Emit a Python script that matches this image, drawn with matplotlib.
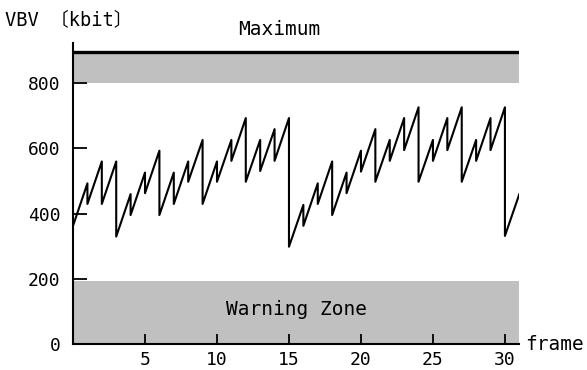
import matplotlib
matplotlib.use('Agg')
import matplotlib.pyplot as plt

plt.rcParams['font.family'] = ['DejaVu Sans Mono', 'Noto Sans CJK JP']

# VBV buffer occupancy: value at frame 0, then peak/trough at each frame boundary
start_level = 363
peaks = [493, 560, 560, 460, 526, 593, 526, 560, 626, 560, 626, 693, 626, 659, 693,
         427, 493, 560, 526, 593, 659, 626, 693, 726, 626, 693, 726, 626, 693, 726]
troughs = [430, 430, 330, 396, 463, 396, 430, 498, 430, 498, 562, 498, 531, 562, 299,
           363, 430, 396, 463, 529, 498, 562, 595, 498, 562, 595, 498, 562, 595, 332]
end_level = 460
n_frames = 31

vbv_max = 895
upper_zone = 800
warning_zone = 195

y_ticks = [0, 200, 400, 600, 800]
x_ticks = [5, 10, 15, 20, 25, 30]

# build the sawtooth path
xs = [0]
ys = [start_level]
for f in range(1, len(peaks) + 1):
    xs += [f, f]
    ys += [peaks[f - 1], troughs[f - 1]]
xs.append(n_frames)
ys.append(end_level)

fig = plt.figure(figsize=(5.87, 3.70), dpi=100)
ax = fig.add_axes([0.1244, 0.0695, 0.7603, 0.8143])

ax.axhspan(0, warning_zone, color='#c0c0c0', lw=0, zorder=1)
ax.axhspan(upper_zone, vbv_max, color='#c0c0c0', lw=0, zorder=1)
ax.axhline(vbv_max, color='black', lw=2.4, zorder=2)
ax.plot(xs, ys, color='black', lw=1.5, zorder=3)

ax.set_xlim(0, n_frames)
ax.set_ylim(0, 923)
for s in ['top', 'right']:
    ax.spines[s].set_visible(False)
for s in ['left', 'bottom']:
    ax.spines[s].set_linewidth(1.5)
    ax.spines[s].set_zorder(4)

ax.set_xticks(x_ticks)
ax.set_yticks(y_ticks)
ax.tick_params(axis='x', direction='in', length=7.5, width=1.3, pad=4.5, labelsize=13)
ax.tick_params(axis='y', direction='in', length=10, width=1.3, pad=9, labelsize=13)

ax.text(14.3, 963, 'Maximum', ha='center', va='center', fontsize=14, clip_on=False)
ax.text(15.5, 107, 'Warning Zone', ha='center', va='center', fontsize=14)
ax.text(1.012, 0.0, 'frame', transform=ax.transAxes, ha='left', va='center', fontsize=14)
fig.text(0.117, 0.946, 'VBV 〔kbit〕', ha='center', va='center', fontsize=13.5)

fig.savefig('out.png', dpi=100)
